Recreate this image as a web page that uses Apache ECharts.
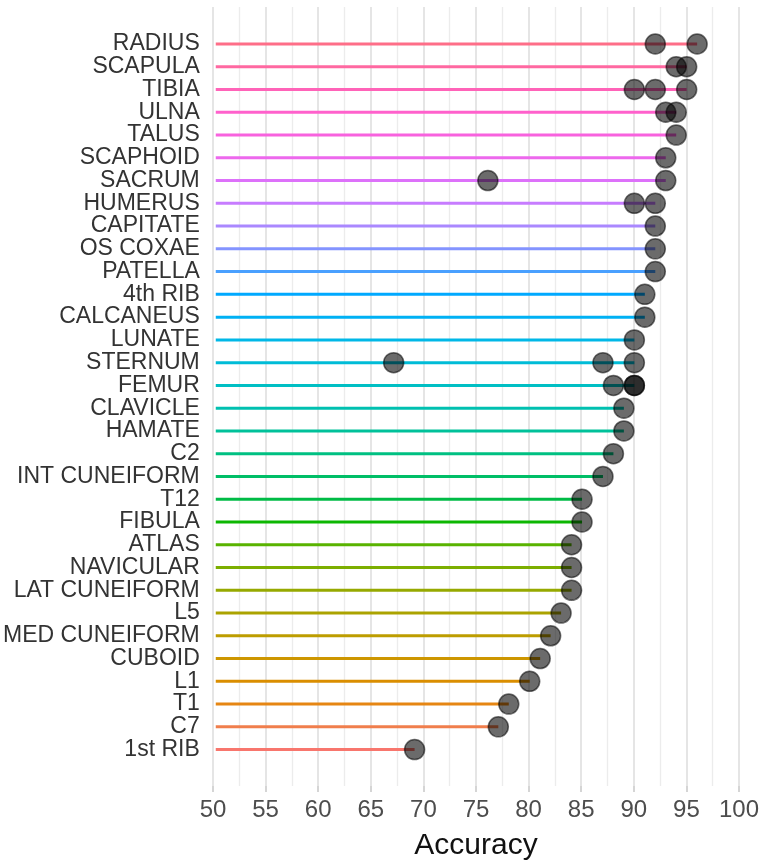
<!DOCTYPE html>
<html>
<head>
<meta charset="utf-8">
<script src="https://cdn.jsdelivr.net/npm/echarts@6/dist/echarts.min.js"></script>
<style>
html,body{margin:0;padding:0;background:#fff;}
#chart{width:762px;height:866px;}
</style>
</head>
<body>
<div id="chart"></div>
<script>
// Categories, top to bottom
const categories = ['RADIUS','SCAPULA','TIBIA','ULNA','TALUS','SCAPHOID','SACRUM','HUMERUS','CAPITATE','OS COXAE','PATELLA','4th RIB','CALCANEUS','LUNATE','STERNUM','FEMUR','CLAVICLE','HAMATE','C2','INT CUNEIFORM','T12','FIBULA','ATLAS','NAVICULAR','LAT CUNEIFORM','L5','MED CUNEIFORM','CUBOID','L1','T1','C7','1st RIB'];
// Accuracy values for each category (one or more observations)
const accuracy = [[92,96],[94,95],[90,92,95],[93,94],[94],[93],[76,93],[90,92],[92],[92],[92],[91],[91],[90],[67,87,90],[88,90,90],[89],[89],[88],[87],[85],[85],[84],[84],[84],[83],[82],[81],[80],[78],[77],[69]];
// X-axis tick labels
const xTickLabels = [50,55,60,65,70,75,80,85,90,95,100];
const xAxisTitle = 'Accuracy';

const xMin = xTickLabels[0], xMax = xTickLabels[xTickLabels.length-1];
const xStep = xTickLabels[1] - xTickLabels[0];

// ggplot2-style hue palette (HCL, c=100, l=65)
function hcl2hex(h, c, l) {
  const hr = h * Math.PI / 180;
  const U = c * Math.cos(hr), V = c * Math.sin(hr);
  const Xn = 95.047, Yn = 100.0, Zn = 108.883;
  const un = 4*Xn/(Xn+15*Yn+3*Zn), vn = 9*Yn/(Xn+15*Yn+3*Zn);
  const Y = l > 8 ? Yn*Math.pow((l+16)/116,3) : Yn*l/903.3;
  const up = U/(13*l)+un, vp = V/(13*l)+vn;
  const X = Y*9*up/(4*vp);
  const Z = Y*(12-3*up-20*vp)/(4*vp);
  const x = X/100, y = Y/100, z = Z/100;
  let r = 3.2404542*x - 1.5371385*y - 0.4985314*z;
  let g = -0.9692660*x + 1.8760108*y + 0.0415560*z;
  let b = 0.0556434*x - 0.2040259*y + 1.0572252*z;
  const gam = t => t <= 0.0031308 ? 12.92*t : 1.055*Math.pow(t,1/2.4)-0.055;
  const to = t => { t = Math.round(Math.min(1,Math.max(0,gam(t)))*255); return ('0'+t.toString(16)).slice(-2); };
  return '#'+to(r)+to(g)+to(b);
}
const n = categories.length;
const lineColors = categories.map((c,i) => hcl2hex(15 + 360*(n-1-i)/n, 100, 65));

const stemData = categories.map((c,i) => [Math.max.apply(null, accuracy[i]), c]);
const pointData = [];
categories.forEach((c,i) => accuracy[i].forEach(v => pointData.push([v, c])));

const chart = echarts.init(document.getElementById('chart'), null, {renderer:'canvas'});
const font = 'Liberation Sans, Arial, sans-serif';
chart.setOption({
  animation: false,
  backgroundColor: '#ffffff',
  grid: [
    {left: 213, right: 23, top: 7, bottom: 80},
    {left: 213, right: 23, top: 32.6, bottom: 105}
  ],
  xAxis: [
    {
      gridIndex: 0, type: 'value', min: xMin, max: xMax, interval: xStep,
      axisLine: {show: false},
      axisTick: {show: true, length: 6, lineStyle: {color: '#c8c8c8', width: 1.5}},
      minorTick: {show: false, splitNumber: 2},
      splitLine: {show: true, lineStyle: {color: '#dcdcdc', width: 1.5}},
      minorSplitLine: {show: true, lineStyle: {color: '#ececec', width: 1.3}},
      axisLabel: {fontSize: 24, color: '#4d4d4d', fontFamily: font, margin: 12},
      name: xAxisTitle, nameLocation: 'middle', nameGap: 45,
      nameTextStyle: {fontSize: 30, color: '#111', fontFamily: font}
    },
    {gridIndex: 1, type: 'value', min: xMin, max: xMax, show: false}
  ],
  yAxis: [
    {gridIndex: 0, type: 'value', show: false},
    {
      gridIndex: 1, type: 'category', data: categories, inverse: true,
      axisLine: {show: false}, axisTick: {show: false}, splitLine: {show: false},
      axisLabel: {fontSize: 23, color: '#333', fontFamily: font, margin: 16, interval: 0}
    }
  ],
  series: [
    {
      type: 'custom', xAxisIndex: 1, yAxisIndex: 1,
      data: stemData, encode: {x: 0, y: 1},
      renderItem: function (params, api) {
        const yi = api.value(1);
        const s = api.coord([xMin, yi]);
        const e = api.coord([api.value(0), yi]);
        return {type: 'line', shape: {x1: s[0], y1: s[1], x2: e[0], y2: e[1]},
                style: {stroke: lineColors[params.dataIndex], lineWidth: 3}};
      },
      z: 2
    },
    {
      type: 'scatter', xAxisIndex: 1, yAxisIndex: 1,
      data: pointData, symbol: 'circle', symbolSize: 20,
      itemStyle: {color: 'rgba(0,0,0,0.58)', borderColor: 'rgba(0,0,0,0.55)', borderWidth: 1.5, opacity: 1},
      z: 3
    }
  ]
});
</script>
</body>
</html>
